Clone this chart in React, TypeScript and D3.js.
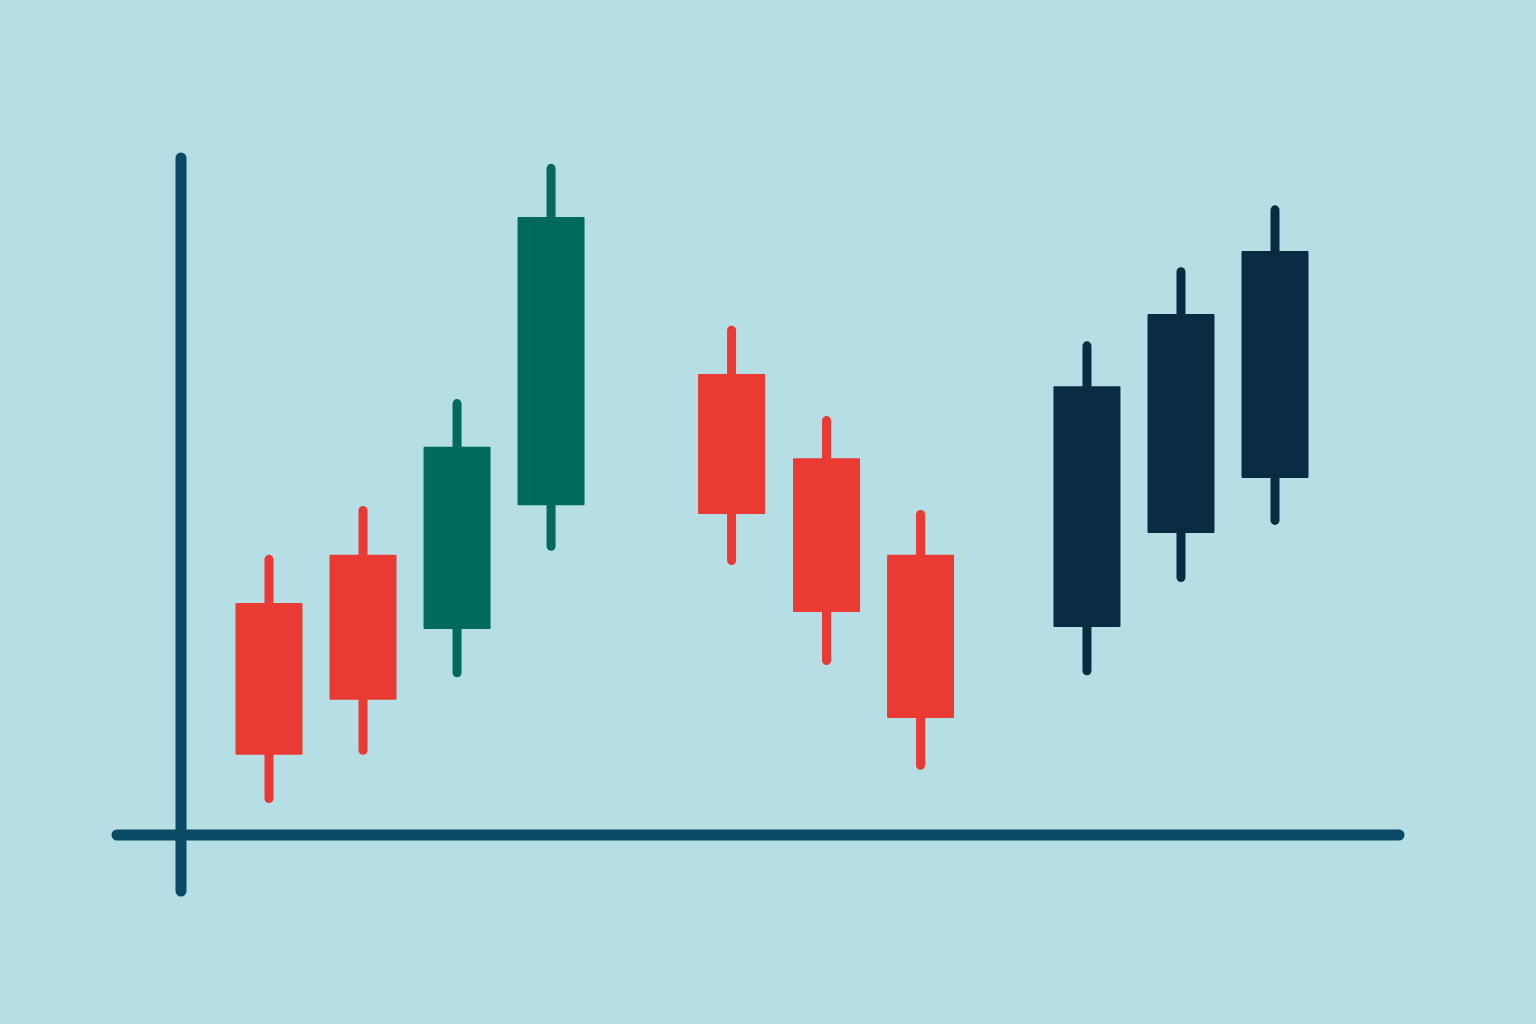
import { useEffect, useRef } from "react";
import * as d3 from "d3";

// slot positions along the x axis (the gaps between groups are uneven)
const slots = [0, 1, 2, 3, 4.92, 5.93, 6.93, 8.7, 9.7, 10.7];
const highs = [41.2, 48.4, 64.1, 98.7, 74.9, 61.6, 47.8, 72.6, 83.5, 92.6];
const opens = [34.1, 41.2, 30.3, 48.5, 67.8, 55.4, 41.2, 30.6, 44.4, 52.5];
const closes = [11.8, 19.9, 57.1, 90.9, 47.2, 32.8, 17.2, 66.0, 76.6, 85.9];
const lows = [4.7, 11.8, 23.2, 41.8, 39.7, 25.0, 9.6, 23.5, 37.2, 45.6];
const kinds = ["down", "down", "up", "up", "down", "down", "down", "late", "late", "late"];

const colors: Record<string, string> = {
  down: "#ea3a34",
  up: "#006a5e",
  late: "#0a2c43",
};

export default function App() {
  const svgRef = useRef<SVGSVGElement>(null);
  const width = 1536;
  const height = 1024;

  useEffect(() => {
    if (!svgRef.current) return;
    document.body.style.margin = "0";

    const svg = d3.select(svgRef.current);
    svg.selectAll("*").remove();

    svg.append("rect").attr("width", width).attr("height", height).attr("fill", "#b5dfe4");

    const x = d3.scaleLinear().domain([0, 10.7]).range([269, 1275]);
    const y = d3.scaleLinear().domain([0, 100]).range([835, 155]);

    const axisColor = "#0b4a64";
    // axes
    svg.append("line")
      .attr("x1", 181).attr("x2", 181)
      .attr("y1", y(100) + 3).attr("y2", 891)
      .attr("stroke", axisColor).attr("stroke-width", 11).attr("stroke-linecap", "round");
    svg.append("line")
      .attr("x1", 117).attr("x2", 1399)
      .attr("y1", y(0)).attr("y2", y(0))
      .attr("stroke", axisColor).attr("stroke-width", 11).attr("stroke-linecap", "round");

    const data = slots.map((s, i) => ({
      s,
      high: highs[i],
      low: lows[i],
      open: opens[i],
      close: closes[i],
      color: colors[kinds[i]],
    }));

    const bodyW = 67;
    const g = svg.append("g");

    // wicks
    g.selectAll("line.wick")
      .data(data)
      .enter()
      .append("line")
      .attr("class", "wick")
      .attr("x1", (d) => x(d.s))
      .attr("x2", (d) => x(d.s))
      .attr("y1", (d) => y(d.high) + 4.5)
      .attr("y2", (d) => y(d.low) - 4.5)
      .attr("stroke", (d) => d.color)
      .attr("stroke-width", 9)
      .attr("stroke-linecap", "round");

    // bodies
    g.selectAll("rect.body")
      .data(data)
      .enter()
      .append("rect")
      .attr("class", "body")
      .attr("x", (d) => x(d.s) - bodyW / 2)
      .attr("y", (d) => y(Math.max(d.open, d.close)))
      .attr("width", bodyW)
      .attr("height", (d) => Math.abs(y(d.open) - y(d.close)))
      .attr("rx", 1)
      .attr("fill", (d) => d.color);
  }, []);

  return (
    <div style={{ position: "absolute", left: 0, top: 0 }}>
      <svg ref={svgRef} width={width} height={height} style={{ display: "block" }} />
    </div>
  );
}
